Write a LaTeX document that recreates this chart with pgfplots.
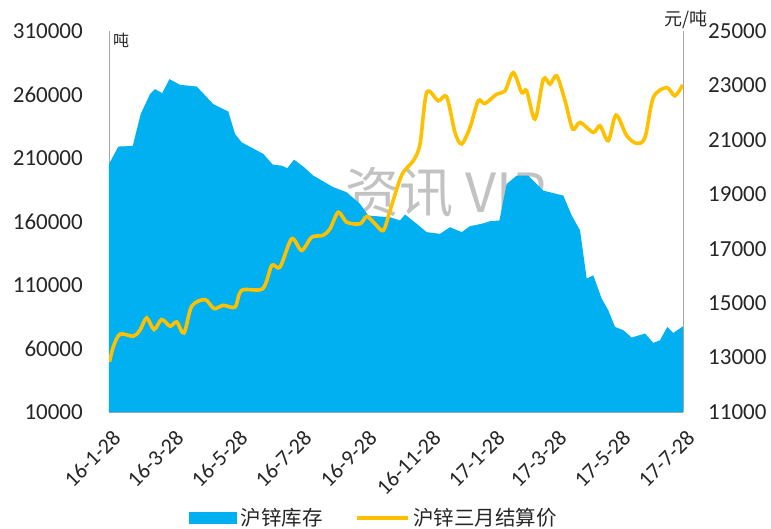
\documentclass[border=0pt]{standalone}
\usepackage{pgfplots}
\pgfplotsset{compat=1.18}
\usepackage{fontspec}
\setmainfont{Carlito}
\newfontfamily\cjk{Noto Sans CJK SC}
\definecolor{zblue}{HTML}{00B0F0}
\definecolor{zorange}{HTML}{FFC000}
\definecolor{axgray}{HTML}{A6A6A6}
\definecolor{txt}{HTML}{262626}
\begin{document}
\begin{tikzpicture}
\useasboundingbox (-109bp,-117bp) rectangle (662bp,412bp);
% watermark (behind everything)
\node[text=black!24, font=\cjk\fontsize{54bp}{60bp}\selectfont, anchor=center] at (337bp,220bp) {资讯 VIP};
\begin{axis}[
  scale only axis, width=574bp, height=381bp,
  xmin=0, xmax=547, ymin=10000, ymax=310000,
  enlargelimits=false,
  axis x line*=bottom, axis y line*=left,
  axis line style={draw=axgray, line width=0.9bp},
  major tick length=0pt,
  xtick={0,60,121,182,244,305,366,425,486,547},
  xticklabels={16-1-28,16-3-28,16-5-28,16-7-28,16-9-28,16-11-28,17-1-28,17-3-28,17-5-28,17-7-28},
  ytick={10000,60000,110000,160000,210000,260000,310000},
  yticklabels={10000,60000,110000,160000,210000,260000,310000},
  scaled ticks=false,
  yticklabel style={font=\fontsize{23bp}{27bp}\selectfont, text=txt, anchor=east, inner sep=0pt, xshift=-26bp},
  xticklabel style={font=\fontsize{22bp}{26bp}\selectfont, text=txt, inner sep=0pt, yshift=-22bp, xshift=8bp, rotate=45, anchor=east},
]
\addplot[fill=zblue, draw=none] coordinates {
(0,205300) (8.9,219000) (22.6,219500) (30.2,244600) (39.1,260300) (43.8,264200)
(50.8,261100) (57.5,272100) (67.7,267600) (83.6,266300) (99.4,252400) (113.7,246600)
(120.1,228900) (126.5,222300) (147.1,213200) (156.0,204800) (164.6,204000) (169.9,201900)
(176.3,208700) (185.2,203200) (194.7,196100) (213.8,187000) (226.5,183000) (239.2,173900)
(247.1,164700) (258.3,163900) (267.8,163400) (277.3,160800) (282.1,165500) (293.2,158200)
(302.8,151600) (315.4,150300) (325.0,155500) (336.1,151600) (344.0,156300) (355.2,158200)
(363.1,160200) (372.0,160800) (379.0,189600) (388.5,196100) (399.6,196100) (413.9,184300)
(432.9,180400) (441.0,164700) (448.9,152900) (455.2,115000) (461.5,117600) (469.5,99300)
(475.8,90100) (482.2,77000) (490.1,74400) (498.1,68600) (510.8,71800) (518.7,64400)
(525.1,66500) (532.0,77000) (537.8,72300) (547,77500)
} \closedcycle;
\node[anchor=north west, inner sep=0pt, xshift=4bp, yshift=-2bp, font=\cjk\fontsize{16bp}{18bp}\selectfont, text=txt] at (rel axis cs:0,1) {吨};
\end{axis}
\begin{axis}[
  scale only axis, width=574bp, height=381bp,
  xmin=0, xmax=547, ymin=11000, ymax=25000,
  enlargelimits=false,
  axis x line=none, axis y line*=right,
  axis line style={draw=axgray, line width=0.9bp},
  major tick length=0pt,
  ytick={11000,13000,15000,17000,19000,21000,23000,25000},
  yticklabels={11000,13000,15000,17000,19000,21000,23000,25000},
  scaled ticks=false,
  yticklabel style={font=\fontsize{23bp}{27bp}\selectfont, text=txt, anchor=west, inner sep=0pt, xshift=25bp},
  legend columns=2,
  legend style={at={(0.462,-0.278)}, anchor=center, draw=none, fill=none,
    font=\cjk\fontsize{20.5bp}{24bp}\selectfont, text=txt,
    nodes={inner sep=2bp},
    /tikz/every odd column/.append style={column sep=2bp},
    /tikz/every even column/.append style={column sep=30bp}},
  legend cell align=left,
]
\addlegendimage{legend image code/.code={\fill[zblue] (0bp,-5.5bp) rectangle (47bp,5.5bp);}}
\addlegendentry{沪锌库存}
\addplot[zorange, line width=3.6bp, smooth, tension=0.5,
  legend image code/.code={\draw[zorange, line width=3.6bp] (0bp,0bp) -- (51bp,0bp);}] coordinates {
(0.5,12843) (4.1,13393) (10.5,13859) (23.2,13785) (29.5,14005) (35.9,14456) (42.9,14031)
(50.2,14397) (58.2,14152) (64.5,14309) (71.5,13906) (78.8,14885) (91.5,15130) (100.1,14800)
(108.9,14921) (120.1,14859) (126.5,15471) (146.5,15533) (155.1,16387) (163.0,16325)
(174.1,17366) (183.6,16937) (193.2,17425) (203.7,17487) (210.6,17732) (218.5,18341)
(226.5,17974) (239.2,17916) (245.6,18183) (253.5,17916) (261.4,17670) (267.8,18400)
(278.9,19700) (290.0,20236) (296.4,20848) (302.8,22739) (313.8,22435) (321.8,22581)
(329.7,21273) (336.1,20848) (344.0,21456) (351.9,22435) (358.3,22335) (369.5,22680)
(377.4,22801) (385.3,23472) (393.3,22739) (398.0,22801) (406.0,21764) (413.9,23230)
(420.3,23047) (426.7,23351) (434.6,22435) (441.9,21397) (448.9,21640) (461.5,21273)
(467.9,21518) (475.8,20969) (483.2,21911) (493.4,21152) (502.9,20870) (510.8,21090)
(518.7,22555) (531.4,22922) (539.3,22618) (546.7,23021)
};
\addlegendentry{沪锌三月结算价}
\end{axis}
\node[anchor=south east, inner sep=0pt, font=\cjk\fontsize{18bp}{20bp}\selectfont, text=txt] at (599bp,383bp) {元/吨};
\end{tikzpicture}
\end{document}
